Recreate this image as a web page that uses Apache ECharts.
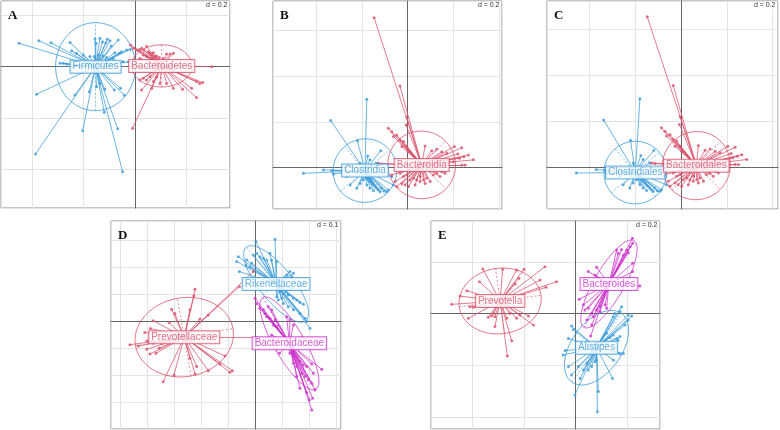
<!DOCTYPE html>
<html><head><meta charset="utf-8">
<script src="https://cdn.jsdelivr.net/npm/echarts@6/dist/echarts.min.js"></script>
<style>html,body{margin:0;padding:0;background:#fff}#c{width:780px;height:430px}</style>
</head><body><div id="c"></div><script>
// ---------- data ----------
const panelLetters = ['A','B','C','D','E'];
const gridSteps = [0.2, 0.2, 0.2, 0.1, 0.2];
const gridLabels = ['d = 0.2','d = 0.2','d = 0.2','d = 0.1','d = 0.2'];
const xRanges = [[-0.520,0.369],[-0.589,0.412],[-0.584,0.423],[-0.534,0.317],[-0.561,0.327]];
const yRanges = [[-0.549,0.255],[-0.181,0.729],[-0.182,0.725],[-0.400,0.370],[-0.447,0.359]];

// Panel A
const aFirmicutes = [[-0.450,0.091],[-0.373,0.101],[-0.326,0.093],[-0.252,0.094],[-0.246,0.062],[-0.227,0.052],[-0.201,0.045],[-0.155,0.107],[-0.151,0.091],[-0.136,0.110],[-0.126,0.097],[-0.113,0.093],[-0.107,0.106],[-0.097,0.101],[-0.092,0.080],[-0.065,0.104],[-0.078,0.054],[-0.061,0.052],[-0.052,0.058],[-0.032,0.065],[-0.019,0.067],[-0.291,0.013],[-0.278,0.013],[-0.265,0.010],[-0.175,0.039],[-0.158,0.039],[-0.142,0.045],[-0.123,0.041],[-0.110,0.036],[-0.084,0.032],[-0.045,0.019],[-0.026,0.019],[-0.382,-0.107],[-0.233,-0.110],[-0.177,-0.097],[-0.117,-0.088],[-0.080,-0.091],[-0.056,-0.084],[-0.041,-0.111],[-0.203,-0.249],[-0.119,-0.177],[-0.067,-0.241],[-0.386,-0.339],[-0.048,-0.408],[-0.149,-0.078],[-0.136,-0.065]];
const aBacteroidetes = [[-0.017,0.084],[-0.006,0.071],[0.006,0.065],[0.017,0.067],[0.026,0.071],[0.035,0.065],[0.045,0.078],[0.052,0.058],[0.058,0.052],[0.065,0.045],[0.071,0.054],[0.078,0.039],[0.084,0.041],[0.094,0.036],[0.110,0.032],[0.123,0.049],[0.136,0.049],[0.149,0.052],[0.065,0.032],[0.045,0.039],[0.019,0.032],[0.032,0.045],[0.298,0.000],[0.263,-0.062],[0.252,-0.065],[0.239,-0.058],[0.220,-0.084],[0.239,-0.120],[0.185,-0.088],[0.149,-0.084],[0.123,-0.065],[-0.009,-0.239],[0.019,-0.052],[0.032,-0.045],[0.045,-0.052],[0.058,-0.039],[0.071,-0.058],[0.084,-0.041],[0.026,-0.091],[0.065,-0.084],[0.097,-0.065]];
// Panel B (class) and C (order) show the same sample scores
const bClostridia = [[-0.456,-0.025],[-0.369,-0.010],[-0.332,-0.013],[-0.325,-0.028],[-0.337,0.206],[-0.179,0.299],[-0.220,0.118],[-0.118,0.074],[-0.175,0.051],[-0.165,0.034],[-0.136,0.019],[-0.208,0.019],[-0.194,-0.054],[-0.182,-0.047],[-0.172,-0.054],[-0.165,-0.061],[-0.157,-0.069],[-0.150,-0.076],[-0.143,-0.083],[-0.136,-0.090],[-0.128,-0.098],[-0.121,-0.105],[-0.114,-0.090],[-0.103,-0.102],[-0.092,-0.105],[-0.085,-0.098],[-0.165,-0.090],[-0.150,-0.101],[-0.179,-0.076],[-0.223,-0.090],[-0.252,-0.076],[-0.267,-0.039],[-0.208,-0.069],[-0.070,-0.039],[-0.063,-0.076]];
const bBacteroidia = [[-0.147,0.656],[-0.034,0.357],[-0.004,0.220],[-0.007,0.187],[-0.085,0.172],[-0.070,0.157],[-0.063,0.136],[-0.048,0.143],[-0.034,0.121],[-0.019,0.114],[-0.026,0.092],[-0.004,0.092],[0.003,0.070],[0.076,0.095],[0.105,0.074],[0.127,0.080],[0.149,0.070],[0.171,0.063],[0.204,0.092],[0.236,0.087],[0.219,0.060],[0.265,0.055],[0.246,0.048],[0.287,0.034],[0.226,0.041],[0.200,0.026],[0.178,0.019],[0.236,0.012],[0.251,0.012],[-0.128,0.019],[-0.114,0.016],[-0.034,-0.025],[-0.019,-0.039],[-0.004,-0.032],[0.010,-0.054],[0.025,-0.047],[0.039,-0.054],[0.054,-0.039],[0.069,-0.054],[0.083,-0.047],[0.098,-0.061],[0.112,-0.032],[0.127,-0.025],[0.141,-0.039],[0.149,-0.017],[0.163,-0.025],[-0.026,-0.069],[-0.048,-0.083],[-0.055,-0.061],[-0.012,-0.076],[0.003,-0.083],[0.032,-0.076],[0.054,-0.061],[0.076,-0.069],[-0.070,-0.032]];
const cClostridiales = bClostridia;
const cBacteroidales = bBacteroidia;
// Panel D
const dPrevotellaceae = [[-0.223,0.117],[-0.227,0.093],[-0.310,0.043],[-0.298,0.028],[-0.242,0.041],[-0.205,0.007],[-0.174,0.022],[-0.378,0.001],[-0.319,-0.006],[-0.388,-0.028],[-0.409,-0.043],[-0.464,-0.088],[-0.433,-0.093],[-0.402,-0.074],[-0.378,-0.083],[-0.390,-0.122],[-0.402,-0.105],[-0.368,-0.120],[-0.356,-0.101],[-0.347,-0.083],[-0.341,-0.225],[-0.301,-0.200],[-0.223,-0.196],[-0.174,-0.184],[-0.112,-0.130],[-0.094,-0.190],[-0.085,-0.184],[-0.131,-0.159],[-0.242,-0.138],[-0.217,-0.169],[-0.059,0.127],[-0.007,0.183],[0.005,-0.062]];
const dRikenellaceae = [[0.002,0.294],[0.073,0.302],[-0.069,0.220],[-0.063,0.238],[-0.059,0.183],[-0.035,0.207],[-0.020,0.201],[-0.014,0.214],[-0.032,0.226],[-0.007,0.244],[0.005,0.251],[0.017,0.238],[0.030,0.232],[0.042,0.226],[0.054,0.251],[0.060,0.226],[0.079,0.220],[0.128,0.183],[0.141,0.177],[0.135,0.164],[0.116,0.170],[0.165,0.068],[0.178,0.062],[0.153,0.078],[0.141,0.084],[0.122,0.096],[0.104,0.102],[0.091,0.109],[0.116,0.115],[0.135,0.121],[0.190,-0.002],[0.202,-0.027],[0.184,0.010],[0.165,0.028],[0.141,0.041],[0.122,0.053],[0.104,0.065],[0.098,0.084],[0.079,0.090],[0.085,0.078]];
const dBacteroidaceae = [[-0.001,0.084],[0.005,0.065],[0.017,0.047],[0.030,0.041],[0.036,0.028],[0.042,0.016],[0.054,0.010],[0.060,-0.002],[0.067,-0.015],[0.079,-0.021],[0.073,0.004],[0.048,0.053],[0.060,0.041],[0.116,0.016],[0.128,0.004],[0.141,-0.015],[0.060,-0.052],[0.089,-0.120],[0.141,-0.157],[0.153,-0.169],[0.165,-0.151],[0.178,-0.163],[0.190,-0.169],[0.209,-0.159],[0.246,-0.179],[0.215,-0.194],[0.172,-0.194],[0.184,-0.206],[0.196,-0.219],[0.209,-0.231],[0.221,-0.256],[0.165,-0.249],[0.190,-0.265],[0.212,-0.286],[0.209,-0.330],[0.200,-0.293],[0.153,-0.206],[0.141,-0.132],[0.128,-0.120]];
// Panel E
const ePrevotella = [[-0.360,0.173],[-0.283,0.172],[-0.229,0.169],[-0.200,0.172],[-0.119,0.182],[-0.074,0.124],[-0.115,0.102],[-0.138,0.130],[-0.220,0.137],[-0.235,0.115],[-0.373,0.124],[-0.422,0.089],[-0.448,0.068],[-0.481,0.036],[-0.410,0.027],[-0.397,0.025],[-0.416,-0.018],[-0.339,-0.014],[-0.326,-0.009],[-0.319,0.001],[-0.313,-0.012],[-0.267,-0.018],[-0.255,0.001],[-0.229,-0.018],[-0.216,-0.005],[-0.183,-0.009],[-0.164,-0.044],[-0.313,-0.050],[-0.265,-0.164],[-0.248,-0.105]];
const eBacteroides = [[0.220,0.292],[0.221,0.273],[0.211,0.260],[0.198,0.247],[0.178,0.249],[0.159,0.247],[0.165,0.234],[0.185,0.227],[0.204,0.236],[0.221,0.195],[0.221,0.163],[0.249,0.107],[0.049,0.163],[0.081,0.180],[0.075,0.150],[0.014,0.056],[0.030,0.034],[0.049,0.021],[0.036,0.014],[0.062,0.001],[0.081,0.014],[0.094,0.008],[0.068,-0.012],[0.043,-0.025],[0.062,-0.044],[0.058,-0.087],[0.094,0.027],[0.114,0.034],[0.120,0.021]];
const eAlistipes = [[0.178,0.027],[0.172,0.008],[0.152,0.001],[0.146,-0.012],[0.204,-0.005],[0.217,-0.009],[0.204,-0.025],[0.191,-0.044],[0.172,-0.089],[0.165,-0.102],[0.159,-0.096],[0.146,-0.083],[0.133,-0.092],[0.120,-0.076],[-0.016,-0.048],[-0.009,-0.061],[-0.028,-0.096],[-0.041,-0.143],[-0.048,-0.160],[-0.028,-0.205],[-0.016,-0.238],[0.017,-0.251],[-0.003,-0.315],[0.049,-0.218],[0.062,-0.205],[0.075,-0.186],[0.081,-0.180],[0.088,-0.302],[0.084,-0.380],[0.143,-0.251],[0.146,-0.180],[0.172,-0.156],[0.185,-0.154],[0.043,-0.193],[0.030,-0.218],[0.010,-0.205]];

// class centroids [x, y] and ellipse [semi-axis 1, semi-axis 2, angle in degrees]
const centroids = {
  Firmicutes:[-0.153,0.000], Bacteroidetes:[0.104,0.003],
  Clostridia:[-0.187,-0.013], Bacteroidia:[0.061,0.012],
  Clostridiales:[-0.199,-0.023], Bacteroidales:[0.067,0.007],
  Prevotellaceae:[-0.263,-0.060], Rikenellaceae:[0.077,0.137], Bacteroidaceae:[0.126,-0.083],
  Prevotella:[-0.293,0.049], Bacteroides:[0.129,0.115], Alistipes:[0.081,-0.132]
};
const ellipses = {
  Firmicutes:[0.155,0.171,0], Bacteroidetes:[0.117,0.082,0],
  Clostridia:[0.140,0.138,40], Bacteroidia:[0.149,0.147,-45],
  Clostridiales:[0.137,0.136,40], Bacteroidales:[0.147,0.150,-45],
  Prevotellaceae:[0.183,0.146,10], Rikenellaceae:[0.175,0.062,-51], Bacteroidaceae:[0.196,0.056,-60],
  Prevotella:[0.160,0.127,8], Bacteroides:[0.194,0.058,60], Alistipes:[0.164,0.097,54]
};

// ---------- styles / layout ----------
const BLUE = '#3b9bd8', RED = '#d9506a', MAG = '#cc33cc';
const panelClasses = [
  [['Firmicutes',aFirmicutes,BLUE],['Bacteroidetes',aBacteroidetes,RED]],
  [['Clostridia',bClostridia,BLUE],['Bacteroidia',bBacteroidia,RED]],
  [['Clostridiales',cClostridiales,BLUE],['Bacteroidales',cBacteroidales,RED]],
  [['Prevotellaceae',dPrevotellaceae,RED],['Rikenellaceae',dRikenellaceae,BLUE],['Bacteroidaceae',dBacteroidaceae,MAG]],
  [['Prevotella',ePrevotella,RED],['Alistipes',eAlistipes,BLUE],['Bacteroides',eBacteroides,MAG]]
];
const gridBoxes = [
  {left:1, top:1, width:229, height:207},
  {left:273, top:1, width:229, height:208},
  {left:547, top:1, width:231, height:208},
  {left:111, top:221, width:230, height:208},
  {left:431, top:221, width:229, height:208}
];

function ellipseItem(color){
  return function(params, api){
    const cx=api.value(0), cy=api.value(1), a=api.value(2), b=api.value(3), t=api.value(4)*Math.PI/180;
    const ct=Math.cos(t), st=Math.sin(t);
    const P=(u,v)=>api.coord([cx+u*ct-v*st, cy+u*st+v*ct]);
    const pts=[];
    for(let k=0;k<=96;k++){const w=k/96*2*Math.PI; pts.push(P(a*Math.cos(w), b*Math.sin(w)));}
    const A1=P(-a,0),A2=P(a,0),B1=P(0,-b),B2=P(0,b);
    const ls={stroke:color,lineWidth:0.7,lineDash:[2,2],fill:null,opacity:0.9};
    return {type:'group',children:[
      {type:'polyline',shape:{points:pts},style:{stroke:color,lineWidth:0.8,fill:null}},
      {type:'line',shape:{x1:A1[0],y1:A1[1],x2:A2[0],y2:A2[1]},style:ls},
      {type:'line',shape:{x1:B1[0],y1:B1[1],x2:B2[0],y2:B2[1]},style:ls}
    ]};
  };
}

const grid=[], xAxis=[], yAxis=[], series=[], graphic=[];
gridBoxes.forEach((g,i)=>{
  grid.push(Object.assign({show:true, borderColor:'#8a8a8a', borderWidth:1, backgroundColor:'#fff', containLabel:false}, g));
  const step=gridSteps[i];
  const common = {type:'value', gridIndex:i, minInterval:step, maxInterval:step, splitNumber:5,
    axisLine:{show:true, onZero:true, lineStyle:{color:'#666', width:1}},
    axisTick:{show:false}, axisLabel:{show:false},
    splitLine:{show:true, lineStyle:{color:'#e4e4e4', width:1}}};
  xAxis.push(Object.assign({min:xRanges[i][0], max:xRanges[i][1]}, common));
  yAxis.push(Object.assign({min:yRanges[i][0], max:yRanges[i][1]}, common));
  panelClasses[i].forEach(([name, pts, color])=>{
    const c=centroids[name], e=ellipses[name];
    series.push({type:'custom', xAxisIndex:i, yAxisIndex:i, renderItem:ellipseItem(color),
      data:[[c[0],c[1],e[0],e[1],e[2]]], encode:{x:0,y:1}, z:3, silent:true});
    series.push({type:'lines', coordinateSystem:'cartesian2d', xAxisIndex:i, yAxisIndex:i,
      data:pts.map(p=>({coords:[c,p]})), lineStyle:{color:color, width:0.8, opacity:0.95}, z:4, silent:true});
    series.push({type:'scatter', xAxisIndex:i, yAxisIndex:i, data:pts, symbol:'circle', symbolSize:3,
      itemStyle:{color:color}, z:5, silent:true});
  });
  panelClasses[i].forEach(([name, pts, color])=>{
    const c=centroids[name];
    series.push({type:'scatter', xAxisIndex:i, yAxisIndex:i, data:[{name:name, value:c}], symbolSize:1,
      itemStyle:{color:'rgba(0,0,0,0)'}, z:10, silent:true,
      label:{show:true, position:'inside', formatter:'{b}', color:color, fontSize:10,
        fontFamily:'Liberation Sans, Arial, sans-serif', backgroundColor:'#fff', borderColor:color,
        borderWidth:1, padding:[1,2,0,2], lineHeight:11}});
  });
  // panel letter and d label
  graphic.push({type:'text', left:g.left+7, top:g.top+8, z:20,
    style:{text:panelLetters[i], font:'bold 13px "Liberation Serif", "Times New Roman", serif', fill:'#111'}});
  graphic.push({type:'text', right:780-(g.left+g.width)+1.5, top:g.top+1, z:20,
    style:{text:gridLabels[i], font:'7px "Liberation Sans", Arial, sans-serif', fill:'#333',
      backgroundColor:'#fff', padding:[0,1]}});
});

const chart = echarts.init(document.getElementById('c'), null, {renderer:'canvas'});
chart.setOption({backgroundColor:'#fff', animation:false, grid, xAxis, yAxis, series, graphic});
</script></body></html>
